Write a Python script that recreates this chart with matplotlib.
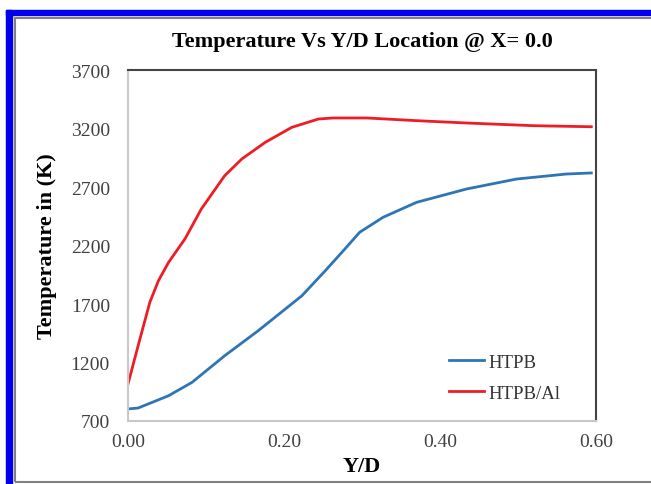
import matplotlib
matplotlib.use("Agg")
import matplotlib.pyplot as plt
from matplotlib.patches import Rectangle

# values
yd_al = [0.0, 0.013, 0.028, 0.039, 0.052, 0.073, 0.094, 0.124, 0.146, 0.176,
         0.21, 0.244, 0.263, 0.306, 0.37, 0.434, 0.52, 0.594]
temp_al = [1016, 1344, 1715, 1899, 2056, 2256, 2512, 2797, 2940, 3082,
           3210, 3281, 3290, 3290, 3267, 3247, 3224, 3215]

yd_htpb = [0.0, 0.013, 0.052, 0.082, 0.124, 0.167, 0.223, 0.253, 0.278,
           0.297, 0.327, 0.37, 0.434, 0.498, 0.562, 0.594]
temp_htpb = [803, 811, 916, 1030, 1258, 1472, 1771, 1985, 2170,
             2313, 2441, 2569, 2683, 2768, 2811, 2820]

x_ticks = [0.0, 0.2, 0.4, 0.6]
y_ticks = [700, 1200, 1700, 2200, 2700, 3200, 3700]

plt.rcParams["font.family"] = ["Liberation Serif", "DejaVu Serif"]

W, H = 651, 485
fig = plt.figure(figsize=(W / 100, H / 100), dpi=100)

# outer frame: blue band plus thin gray line
fig.patches.append(Rectangle((6 / W, 0), 6 / W, 1 - 11 / H, transform=fig.transFigure,
                             color="#0000EE", zorder=0))
fig.patches.append(Rectangle((6 / W, 1 - 16 / H), 1, 5 / H, transform=fig.transFigure,
                             color="#0000EE", zorder=0))
fig.patches.append(Rectangle((15 / W, 1 - 483 / H), 1, (483 - 19) / H,
                             transform=fig.transFigure, fill=False,
                             edgecolor="#808080", linewidth=1.5, zorder=0))

ax = fig.add_axes([128 / W, 1 - 422 / H, (596 - 128) / W, (422 - 71) / H])
ax.plot(yd_htpb, temp_htpb, color="#2E75B6", linewidth=2.0, label="HTPB")
ax.plot(yd_al, temp_al, color="#EE1C25", linewidth=2.0, label="HTPB/Al")

ax.set_xlim(0, 0.6)
ax.set_ylim(700, 3700)
ax.set_xticks(x_ticks)
ax.set_xticklabels([f"{v:.2f}" for v in x_ticks])
ax.set_yticks(y_ticks)
ax.tick_params(length=0, labelsize=14, colors="#404040")
ax.tick_params(axis="y", pad=13)
ax.tick_params(axis="x", pad=9)

for s in ["left", "bottom"]:
    ax.spines[s].set_color("#C8C8C8")
    ax.spines[s].set_linewidth(1.5)
for s in ["top", "right"]:
    ax.spines[s].set_color("#444444")
    ax.spines[s].set_linewidth(1.5)

ax.set_xlabel("Y/D", fontsize=16, fontweight="bold", labelpad=4)
ax.set_ylabel("Temperature in (K)", fontsize=16, fontweight="bold", labelpad=10)
ax.set_title("Temperature Vs Y/D Location @ X= 0.0", fontsize=16,
             fontweight="bold", pad=17)

leg = ax.legend(loc="upper left", bbox_to_anchor=(0.649, 0.24), frameon=False,
                fontsize=13.5, handlelength=1.87, handletextpad=0.27, labelspacing=0.75)
for t in leg.get_texts():
    t.set_color("#333333")

fig.savefig("out.png", dpi=100)
